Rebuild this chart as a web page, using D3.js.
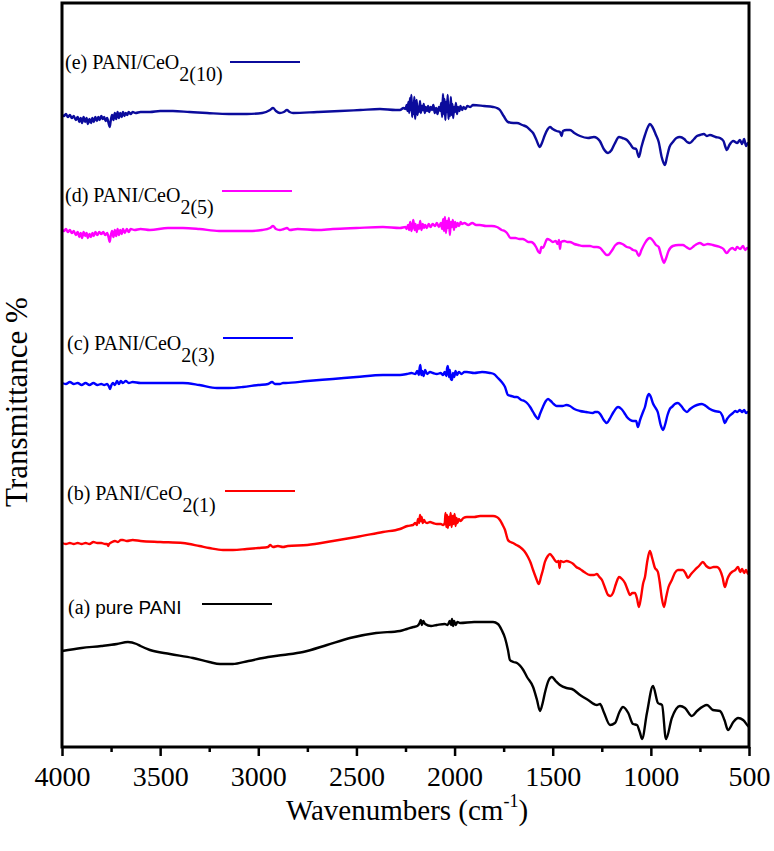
<!DOCTYPE html>
<html><head><meta charset="utf-8">
<script src="https://cdn.jsdelivr.net/npm/d3@7"></script>
<style>body{margin:0;background:#fff}svg{display:block}</style>
</head><body><svg id="c" width="774" height="851"></svg>
<script>
// ---- data (wavenumber cm-1, offset transmittance units) ----
const majorTicks = [4000,3500,3000,2500,2000,1500,1000,500];
const minorTicks = [3750,3250,2750,2250,1750,1250,750];
const labelPrefix = ["(a) ","(b) PANI/CeO","(c) PANI/CeO","(d) PANI/CeO","(e) PANI/CeO"];
const labelSub = ["","2(1)","2(3)","2(5)","2(10)"];
const colors = ["#000000","#ff0000","#0000ff","#ff00ff","#0b0b9c"];

const traceA = [[4000,96],[3900,99],[3800,101],[3720,103],[3664,105],[3620,103],[3600,101],[3552,97],[3450,93],[3333,89],[3250,85],[3195,83],[3130,83],[3050,86],[2950,90],[2874,92],[2772,95],[2650,102],[2533,109],[2400,114],[2278,116],[2243,118],[2210,120],[2190,121],[2178,124],[2172,127],[2166,122],[2160,126],[2150,123],[2120,121],[2090,122],[2050,123],[2035,122],[2025,126],[2018,122],[2013,128],[2008,121],[2002,126],[1995,122],[1985,125],[1972,124],[1900,125],[1804,125],[1779,123],[1760,117],[1743,109],[1728,97],[1718,87],[1700,85],[1682,84],[1650,77],[1631,70],[1600,60],[1580,47],[1565,36],[1550,45],[1540,54],[1520,67],[1504,70],[1485,66],[1463,62],[1430,59],[1402,58],[1361,52],[1320,47],[1275,42],[1259,43],[1240,35],[1208,22],[1183,24],[1160,35],[1142,40],[1115,34],[1091,23],[1071,22],[1055,14],[1045,8],[1020,34],[989,61],[964,44],[943,42],[923,8],[893,29],[852,41],[826,39],[791,31],[765,36],[714,42],[684,37],[648,36],[625,27],[607,17],[580,25],[556,29],[530,27],[505,21],[500,20]];

const traceB = [[4000,204],[3980,203],[3960,204],[3940,203],[3920,204],[3900,203],[3880,204],[3860,203],[3840,205],[3820,204],[3800,204],[3780,203],[3770,203],[3765,201],[3760,203],[3745,205],[3730,206],[3715,205],[3700,207],[3690,207],[3670,206],[3640,207],[3600,206],[3500,205],[3384,204],[3300,201],[3250,199],[3180,197],[3129,197],[3060,198],[3000,199],[2950,200],[2940,202],[2925,200],[2900,201],[2874,200],[2850,201],[2750,202],[2620,206],[2500,210],[2365,215],[2278,218],[2240,221],[2212,222],[2200,224],[2192,222],[2186,228],[2180,224],[2176,232],[2172,226],[2168,230],[2162,224],[2155,227],[2150,225],[2140,224],[2125,225],[2110,224],[2090,223],[2070,223],[2059,222],[2050,224],[2046,234],[2042,220],[2038,232],[2034,219],[2030,230],[2025,222],[2020,234],[2015,220],[2010,231],[2005,223],[2000,233],[1995,221],[1990,229],[1985,224],[1978,228],[1970,226],[1955,229],[1937,230],[1900,230],[1870,231],[1804,231],[1785,230],[1769,227],[1755,222],[1743,217],[1728,207],[1715,205],[1702,204],[1685,202],[1667,200],[1645,196],[1626,190],[1612,184],[1600,177],[1585,169],[1575,164],[1570,163],[1560,170],[1550,177],[1540,185],[1525,191],[1514,193],[1500,190],[1490,187],[1479,185],[1470,186],[1465,179],[1460,186],[1445,185],[1430,186],[1412,185],[1395,183],[1380,180],[1361,178],[1340,175],[1310,172],[1290,172],[1275,173],[1262,170],[1249,167],[1235,160],[1218,152],[1205,151],[1193,154],[1178,163],[1162,170],[1147,168],[1132,164],[1118,157],[1106,152],[1094,154],[1081,154],[1070,148],[1061,140],[1050,150],[1040,163],[1030,170],[1018,186],[1005,196],[992,188],[979,179],[970,177],[964,175],[955,165],[945,150],[933,140],[922,150],[910,160],[893,167],[878,174],[862,177],[837,177],[824,174],[811,169],[795,173],[776,177],[755,181],[735,185],[718,181],[699,179],[680,180],[664,180],[648,177],[635,170],[623,160],[610,168],[597,173],[587,175],[570,177],[556,180],[545,175],[535,178],[525,174],[515,177],[505,173],[500,176]];

const traceC = [[4000,364],[3980,363],[3960,365],[3940,363],[3920,364],[3900,362],[3880,364],[3860,362],[3840,364],[3820,362],[3800,363],[3785,362],[3770,363],[3760,360],[3755,358],[3750,361],[3740,364],[3730,362],[3720,366],[3710,363],[3700,366],[3690,364],[3675,366],[3660,364],[3640,365],[3600,364],[3500,364],[3384,364],[3300,362],[3211,359],[3150,359],[3078,360],[3000,362],[2950,363],[2930,365],[2915,363],[2890,363],[2874,364],[2860,364],[2750,366],[2620,368],[2500,370],[2365,372],[2278,372],[2243,373],[2220,374],[2200,373],[2190,376],[2182,372],[2178,379],[2174,382],[2170,372],[2165,376],[2158,371],[2150,377],[2140,373],[2125,375],[2110,374],[2090,373],[2070,374],[2059,372],[2050,375],[2042,371],[2038,379],[2034,381],[2029,370],[2024,377],[2019,368],[2013,367],[2008,374],[2002,370],[1995,376],[1988,372],[1978,375],[1965,373],[1950,375],[1937,375],[1900,374],[1860,375],[1820,374],[1800,373],[1779,369],[1760,365],[1743,360],[1728,352],[1710,351],[1695,350],[1682,350],[1660,347],[1645,346],[1631,344],[1615,340],[1600,335],[1588,331],[1580,329],[1575,328],[1565,333],[1550,340],[1535,346],[1524,348],[1510,346],[1495,343],[1480,341],[1473,341],[1450,341],[1430,342],[1412,341],[1390,338],[1361,336],[1330,335],[1295,334],[1285,335],[1270,335],[1255,332],[1240,327],[1224,324],[1210,328],[1190,335],[1167,340],[1150,338],[1135,334],[1122,330],[1105,327],[1091,326],[1075,326],[1066,320],[1055,327],[1040,335],[1030,340],[1018,350],[1010,353],[1000,350],[990,344],[979,340],[965,335],[950,322],[938,317],[928,322],[915,332],[900,339],[893,340],[878,343],[862,344],[845,341],[830,337],[816,335],[800,338],[786,340],[765,342],[740,343],[720,341],[699,338],[675,336],[648,335],[635,331],[623,324],[612,328],[600,331],[582,334],[570,336],[560,335],[546,337],[535,335],[525,337],[515,334],[505,335],[500,334]];

const traceD = [[4000,517],[3990,516],[3980,518],[3970,515],[3960,517],[3950,514],[3940,516],[3930,512],[3920,515],[3912,510],[3905,514],[3898,509],[3890,515],[3882,511],[3875,514],[3868,509],[3860,513],[3852,510],[3845,514],[3838,511],[3830,515],[3820,512],[3810,515],[3800,513],[3790,515],[3780,512],[3770,514],[3762,509],[3757,505],[3752,511],[3745,516],[3738,510],[3731,517],[3724,511],[3717,518],[3710,512],[3703,517],[3696,513],[3689,518],[3680,514],[3670,518],[3660,515],[3650,518],[3630,517],[3600,518],[3552,517],[3460,519],[3384,519],[3300,518],[3200,516],[3129,516],[3050,516],[2980,517],[2940,519],[2925,521],[2910,518],[2890,517],[2870,518],[2854,519],[2840,517],[2800,518],[2700,517],[2620,518],[2500,519],[2365,520],[2278,519],[2250,520],[2244,518],[2237,522],[2231,517],[2226,525],[2220,516],[2215,521],[2210,527],[2204,517],[2199,523],[2193,515],[2187,522],[2181,518],[2175,526],[2169,517],[2162,523],[2156,519],[2150,522],[2141,519],[2132,523],[2122,520],[2112,523],[2100,521],[2090,524],[2080,520],[2070,524],[2063,518],[2058,528],[2054,516],[2049,530],[2044,514],[2039,526],[2034,519],[2029,529],[2024,512],[2019,525],[2014,520],[2009,527],[2003,517],[1997,525],[1991,520],[1985,524],[1977,521],[1969,525],[1962,523],[1950,524],[1930,522],[1910,524],[1890,522],[1871,522],[1840,521],[1810,521],[1784,520],[1760,517],[1745,516],[1733,514],[1715,509],[1708,509],[1690,509],[1670,508],[1652,508],[1640,507],[1625,505],[1610,505],[1600,504],[1585,500],[1572,495],[1565,494],[1558,500],[1550,499],[1540,503],[1528,508],[1514,507],[1500,505],[1485,506],[1475,503],[1468,507],[1463,498],[1458,505],[1440,506],[1425,505],[1412,505],[1390,503],[1370,502],[1346,501],[1310,501],[1290,500],[1275,500],[1258,499],[1240,495],[1225,492],[1218,492],[1200,496],[1180,502],[1162,504],[1145,503],[1122,500],[1105,499],[1091,497],[1075,496],[1061,491],[1048,497],[1030,504],[1015,508],[1005,509],[992,507],[974,502],[960,500],[948,492],[940,487],[933,484],[924,488],[910,496],[888,501],[860,502],[837,502],[820,500],[801,498],[780,501],[765,503],[750,504],[730,502],[710,503],[684,502],[665,501],[648,500],[630,498],[620,495],[613,494],[600,497],[585,499],[570,497],[561,500],[545,498],[530,501],[520,497],[510,499],[500,498]];

const traceE = [[4000,632],[3990,631],[3980,633],[3970,630],[3960,632],[3950,629],[3940,631],[3930,627],[3920,630],[3912,625],[3905,629],[3898,624],[3890,630],[3882,625],[3875,629],[3868,623],[3860,628],[3852,624],[3845,629],[3838,625],[3830,630],[3822,626],[3815,630],[3808,627],[3800,631],[3792,628],[3785,630],[3778,626],[3770,629],[3763,624],[3757,620],[3752,626],[3745,632],[3738,627],[3731,634],[3724,628],[3717,635],[3710,629],[3703,634],[3696,630],[3689,635],[3682,631],[3675,634],[3668,632],[3660,635],[3650,633],[3640,635],[3625,634],[3600,635],[3552,635],[3500,636],[3435,636],[3350,635],[3261,634],[3150,633],[3058,633],[2980,634],[2940,637],[2925,639],[2910,636],[2890,634],[2870,635],[2854,637],[2840,635],[2823,634],[2700,635],[2584,636],[2480,637],[2380,638],[2300,637],[2278,637],[2260,639],[2250,638],[2244,642],[2240,636],[2235,645],[2231,634],[2227,649],[2224,637],[2220,652],[2216,630],[2213,644],[2209,633],[2205,650],[2201,628],[2197,641],[2193,647],[2189,632],[2185,640],[2181,635],[2176,646],[2172,634],[2167,641],[2162,637],[2157,643],[2152,634],[2147,640],[2141,636],[2135,641],[2129,635],[2122,640],[2115,637],[2108,642],[2101,634],[2094,639],[2087,633],[2080,640],[2073,636],[2068,644],[2063,630],[2059,653],[2055,633],[2051,648],[2047,627],[2043,645],[2039,635],[2035,652],[2031,628],[2027,641],[2023,631],[2019,650],[2015,632],[2011,643],[2007,629],[2003,640],[1998,635],[1993,644],[1988,633],[1982,640],[1976,636],[1970,641],[1962,637],[1954,640],[1945,638],[1935,641],[1920,640],[1906,642],[1850,641],[1804,640],[1785,639],[1769,637],[1750,631],[1728,625],[1700,624],[1682,624],[1655,622],[1631,620],[1615,617],[1600,614],[1585,608],[1570,601],[1565,600],[1555,604],[1540,612],[1525,618],[1514,620],[1500,618],[1480,616],[1463,615],[1455,611],[1448,616],[1430,617],[1412,617],[1390,614],[1361,611],[1320,609],[1290,610],[1275,609],[1260,606],[1240,598],[1218,594],[1200,597],[1185,603],[1162,610],[1145,609],[1122,607],[1105,603],[1091,599],[1075,598],[1061,590],[1048,600],[1030,612],[1015,620],[1005,623],[992,620],[974,612],[960,605],[945,590],[935,584],[928,582],[918,590],[905,600],[888,605],[870,609],[852,610],[830,608],[815,605],[801,604],[780,608],[765,611],[750,612],[730,613],[715,611],[699,612],[670,610],[648,609],[630,606],[620,600],[613,597],[600,602],[580,606],[560,604],[546,607],[535,603],[525,608],[515,601],[505,604],[500,602]];

const traces = [traceA, traceB, traceC, traceD, traceE];

// ---- layout ----
const svg = d3.select("#c");
const L = 62, R = 749, T = 3, B = 747;
const x = d3.scaleLinear().domain([4000, 500]).range([L, R]);
const y = d3.scaleLinear().domain([0, 744]).range([B, T]);
const serif = "Liberation Serif, Times New Roman, serif";

const line = d3.line().x(d => x(d[0])).y(d => y(d[1])).curve(d3.curveMonotoneX);

traces.forEach((t, i) => {
  svg.append("path").datum(t).attr("d", line)
    .attr("fill", "none").attr("stroke", colors[i])
    .attr("stroke-width", 2.4).attr("stroke-linejoin", "round");
});

// frame
svg.append("rect").attr("x", L).attr("y", T).attr("width", R - L).attr("height", B - T)
  .attr("fill", "none").attr("stroke", "#000").attr("stroke-width", 3);

// bottom axis
const ax = svg.append("g").attr("transform", `translate(0,${B})`)
  .call(d3.axisBottom(x).tickValues(majorTicks).tickSize(9).tickPadding(10).tickFormat(d3.format("d")));
ax.attr("font-family", serif).attr("font-size", 28);
ax.select(".domain").remove();
ax.selectAll(".tick line").attr("stroke-width", 2.5);
ax.selectAll("text").style("font-family", serif).style("font-size", "28px").attr("fill", "#000");
svg.append("g").attr("transform", `translate(0,${B})`)
  .call(d3.axisBottom(x).tickValues(minorTicks).tickSize(5).tickFormat(""))
  .call(g => g.select(".domain").remove())
  .selectAll(".tick line").attr("stroke-width", 2.5);

// axis titles
const xt = svg.append("text").attr("x", 407).attr("y", 820).attr("text-anchor", "middle")
  .style("font-family", serif).style("font-size", "29px");
xt.append("tspan").text("Wavenumbers (cm");
xt.append("tspan").style("font-size", "18px").attr("dy", -13).text("-1");
xt.append("tspan").attr("dy", 13).text(")");

svg.append("text").attr("transform", "translate(27,402) rotate(-90)").attr("text-anchor", "middle")
  .style("font-family", serif).style("font-size", "31px").text("Transmittance %");

// legend (label + sample line next to each trace)
const legendPos = [
  {tx: 68, ty: 614, x1: 202, x2: 272, ly: 604},
  {tx: 67, ty: 500, x1: 225, x2: 295, ly: 491},
  {tx: 67, ty: 350, x1: 223, x2: 293, ly: 338},
  {tx: 65, ty: 202, x1: 222, x2: 292, ly: 191},
  {tx: 65, ty: 69,  x1: 230, x2: 300, ly: 62}
];
legendPos.forEach((p, i) => {
  const t = svg.append("text").attr("x", p.tx).attr("y", p.ty)
    .style("font-family", serif).style("font-size", "20px").attr("fill", "#000");
  if (i === 0) {
    t.append("tspan").text("(a) ");
    t.append("tspan").style("font-family", "Liberation Sans, Arial, sans-serif").style("font-size", "19px").text("pure PANI");
  } else {
    t.append("tspan").text(labelPrefix[i]);
    t.append("tspan").attr("dy", 12).text(labelSub[i]);
  }
  svg.append("line").attr("x1", p.x1).attr("x2", p.x2).attr("y1", p.ly).attr("y2", p.ly)
    .attr("stroke", colors[i]).attr("stroke-width", 2.2);
});
</script></body></html>
